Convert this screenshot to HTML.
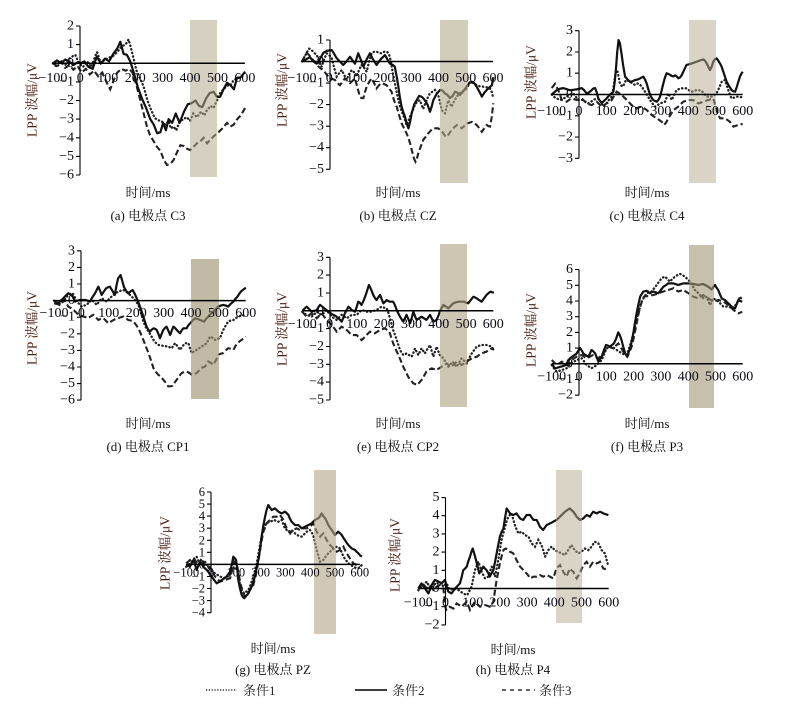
<!DOCTYPE html>
<html><head><meta charset="utf-8"><style>
html,body{margin:0;padding:0;background:#fff}
svg{display:block}
.s{fill:none;stroke:#111;stroke-width:2.2;stroke-linejoin:round;vector-effect:non-scaling-stroke}
.d{fill:none;stroke:#222;stroke-width:2.3;stroke-linecap:round;stroke-dasharray:0.4 3.3;vector-effect:non-scaling-stroke}
.k{fill:none;stroke:#222;stroke-width:2.1;stroke-dasharray:6 3;vector-effect:non-scaling-stroke}
.ax{stroke:#000;stroke-width:1.1;fill:none}
.zx{stroke:#000;stroke-width:1.5;fill:none}
.yt{font-size:14px;text-anchor:end;dominant-baseline:central;fill:#0a0a14}
.xt{font-size:14px;text-anchor:middle;fill:#0a0a14}
.sm{font-size:12.5px}
.yl{font-size:13.5px;fill:#4a1e10;text-anchor:middle;dominant-baseline:central}
.tt{font-size:13px;text-anchor:middle;fill:#111}
.lg{font-size:13px;fill:#222}
</style></head><body>
<svg width="811" height="707" viewBox="0 0 811 707" xmlns="http://www.w3.org/2000/svg" font-family="'Liberation Serif','Noto Serif CJK SC',serif">

<!-- (a) C3 -->
<g>
<g transform="translate(80.3,63.25) scale(0.2743,-18.625)">
<polyline class="d" points="-100,0 -85,-0.2 -70,0.1 -55,-0.1 -40,0.25 -25,0.4 -18,0.45 -5,0 10,-0.2 25,0.1 40,-0.2 55,0.4 61,0.6 75,0 90,0.2 105,0.3 120,0.4 135,0.6 150,0.9 165,1.0 176,1.28 185,0.8 195,0.2 205,-0.4 218,-0.8 231,-1.26 245,-2.0 258,-2.5 270,-2.9 280,-3.05 295,-3.1 310,-3.3 322,-3.1 330,-3.5 340,-3.4 350,-3.6 360,-3.2 375,-3.0 389,-2.9 400,-3.1 412,-2.7 425,-2.9 440,-2.6 452,-2.8 462,-2.5 475,-2.3 486,-2.4 498,-2.0 510,-1.6 522,-1.4 535,-1.2 547,-1.2 559,-0.9 575,-0.8 590,-0.7 601,-0.6"/>
<polyline class="k" points="-100,0 -85,-0.15 -70,0.1 -55,-0.25 -40,-0.1 -25,-0.35 -10,-0.15 5,-0.5 20,-0.3 35,-0.6 50,-0.4 65,-0.7 80,-0.5 95,-1.0 109,-1.4 122,-0.9 135,-0.5 150,-0.3 165,-0.4 178,-0.3 190,-0.5 205,-1.2 219,-2.0 231,-2.7 243,-3.4 255,-3.9 268,-4.2 280,-4.5 292,-4.7 305,-5.2 316,-5.46 328,-5.4 340,-5.2 352,-4.8 365,-4.4 378,-4.45 390,-4.6 401,-4.66 412,-4.5 425,-4.3 437,-4.2 450,-4.0 462,-4.3 474,-4.1 488,-3.9 504,-3.7 518,-3.5 535,-3.2 547,-3.4 559,-3.3 572,-3.0 585,-2.8 601,-2.4"/>
<polyline class="s" points="-100,0 -85,0.15 -70,0 -55,0.2 -40,0.1 -25,-0.1 -10,0.05 0,0 15,0.1 30,-0.2 45,-0.3 60,0.35 75,0 90,0.25 105,0.1 120,0.5 135,0.8 146,1.15 158,0.5 170,0.45 182,0.1 195,-0.5 210,-1.3 225,-1.9 240,-2.4 255,-3.0 268,-3.3 280,-3.76 292,-3.7 302,-3.2 312,-3.6 322,-3.0 335,-3.2 348,-2.7 362,-3.2 378,-2.6 392,-2.2 405,-2.15 420,-2.0 433,-2.3 445,-2.35 458,-1.9 472,-1.6 486,-1.53 498,-1.8 510,-1.8 522,-1.4 535,-1.05 547,-1.17 560,-1.4 571,-0.8 585,-0.75 601,-0.45"/>
</g>
<rect x="190" y="20" width="27" height="157" fill="rgb(180,170,140)" fill-opacity="0.55"/>
<path class="zx" d="M52.9 63.25H244.9"/>
<path class="ax" d="M80 26V175M76 26H80M76 44.6H80M76 63.3H80M76 81.9H80M76 100.5H80M76 119.1H80M76 137.8H80M76 156.4H80M76 175H80"/>
<text class="yt" x="74" y="26">2</text><text class="yt" x="74" y="44.6">1</text><text class="yt" x="74" y="63.3">0</text><text class="yt" x="74" y="81.9">−1</text><text class="yt" x="74" y="100.5">−2</text><text class="yt" x="74" y="119.1">−3</text><text class="yt" x="74" y="137.8">−4</text><text class="yt" x="74" y="156.4">−5</text><text class="yt" x="74" y="175">−6</text>
<text class="xt" x="52.9" y="82">−100</text><text class="xt" x="80.3" y="82">0</text><text class="xt" x="107.7" y="82">100</text><text class="xt" x="135.2" y="82">200</text><text class="xt" x="162.6" y="82">300</text><text class="xt" x="190" y="82">400</text><text class="xt" x="217.5" y="82">500</text><text class="xt" x="244.9" y="82">600</text>
<text class="yl" transform="translate(32,100) rotate(-90)">LPP 波幅/μV</text>
<text class="tt" x="148" y="197">时间/ms</text>
<text class="tt" x="148" y="220">(a) 电极点 C3</text>
</g>

<!-- (b) CZ -->
<g>
<g transform="translate(329.3,61.5) scale(0.2729,-21.55)">
<polyline class="d" points="-100,0 -83,0.4 -74,0.6 -65,0.53 -55,0.4 -46,0.3 -37,0 -28,-0.24 -19,0.1 -10,0.38 0,0.3 9,0.15 18,-0.3 27,-0.7 36,-0.55 45,-0.4 54,-0.6 63,-0.86 72,-0.6 82,-0.4 91,-0.5 100,-0.7 109,-0.4 118,-0.16 128,-0.3 137,-0.47 146,0 155,0.38 164,0.45 173,0.46 182,0.4 192,0.38 201,0.45 210,0.46 216,0.4 222,0.22 231,-0.4 240,-1.0 250,-1.6 259,-2.1 265,-2.3 271,-2.5 277,-2.7 283,-2.95 290,-2.75 296,-2.55 305,-2.3 314,-2.0 323,-1.85 332,-1.8 338,-2.0 344,-2.2 350,-2.0 357,-1.8 363,-1.6 369,-1.48 378,-1.4 387,-1.32 393,-1.4 399,-1.55 406,-1.9 412,-2.25 418,-2.35 424,-2.4 430,-2.1 436,-1.8 442,-1.95 448,-2.1 455,-1.9 467,-1.63 476,-1.5 485,-1.4 494,-1.35 503,-1.25 510,-1.1 516,-0.94 528,-1.0 540,-1.1 552,-1.15 565,-1.17 577,-1.2 589,-1.25 595,-1.4 601,-1.7"/>
<polyline class="k" points="-100,0 -92,0.2 -83,0.4 -74,0.3 -65,0.15 -55,0 -46,-0.16 -34,-0.3 -22,-0.4 -13,-0.55 -4,-0.7 9,-0.8 21,-0.86 30,-1.0 39,-1.1 48,-0.95 57,-0.78 67,-0.9 76,-1.0 85,-0.9 94,-0.78 103,-1.2 112,-1.63 118,-1.7 125,-1.7 131,-1.4 137,-1.17 146,-0.95 155,-0.78 164,-1.0 173,-1.25 182,-1.1 192,-1.0 201,-1.05 210,-1.1 219,-1.25 228,-1.4 237,-1.8 247,-2.1 256,-2.5 265,-2.87 274,-3.1 283,-3.33 290,-3.55 296,-3.8 302,-4.1 308,-4.4 312,-4.55 316,-4.65 321,-4.5 326,-4.26 335,-3.95 344,-3.64 353,-3.5 363,-3.33 372,-3.2 381,-3.1 390,-3.1 399,-3.1 409,-3.2 418,-3.33 424,-3.45 430,-3.5 439,-3.35 448,-3.18 458,-3.05 467,-2.95 476,-3.0 485,-3.1 494,-3.0 503,-2.87 512,-2.85 522,-2.8 531,-2.85 540,-2.95 550,-3.1 559,-3.26 568,-3.1 577,-2.95 583,-3.0 589,-3.02 595,-2.6 601,-1.94"/>
<polyline class="s" points="-100,0 -85,0.1 -71,0.2 -58,0 -46,-0.1 -35,0.1 -22,0.4 -8,0.5 9,0.53 18,0.35 27,0.15 39,0 51,-0.16 63,0 76,0.22 85,0.05 94,-0.1 106,0.38 115,0.1 125,-0.24 137,0.1 149,0.38 160,0.1 173,-0.16 188,0.1 204,0.3 213,0.1 222,-0.1 232,-0.15 240,-0.24 247,-0.7 253,-1.17 259,-1.7 265,-2.1 271,-2.35 277,-2.55 284,-2.9 290,-3.1 296,-2.8 302,-2.4 311,-2.0 320,-1.8 329,-1.6 338,-1.63 344,-1.7 350,-1.8 360,-2.0 369,-2.33 375,-2.1 381,-1.8 393,-1.5 406,-1.32 415,-1.35 424,-1.48 433,-1.55 442,-1.7 452,-1.6 461,-1.4 470,-1.45 479,-1.55 490,-1.4 503,-1.17 513,-1.0 522,-0.94 531,-1.0 540,-1.17 550,-1.4 559,-1.63 568,-1.45 577,-1.32 587,-1.2 596,-1.1 601,-0.73"/>
</g>
<rect x="440" y="20" width="28" height="163" fill="rgb(180,170,140)" fill-opacity="0.6"/>
<path class="zx" d="M302 61.5H493"/>
<path class="ax" d="M330 40V169.3M326 40H330M326 61.5H330M326 83.1H330M326 104.6H330M326 126.2H330M326 147.7H330M326 169.3H330"/>
<text class="yt" x="324" y="40">1</text><text class="yt" x="324" y="61.5">0</text><text class="yt" x="324" y="83.1">−1</text><text class="yt" x="324" y="104.6">−2</text><text class="yt" x="324" y="126.2">−3</text><text class="yt" x="324" y="147.7">−4</text><text class="yt" x="324" y="169.3">−5</text>
<text class="xt" x="302" y="82">−100</text><text class="xt" x="329.3" y="82">0</text><text class="xt" x="356.6" y="82">100</text><text class="xt" x="383.9" y="82">200</text><text class="xt" x="411.2" y="82">300</text><text class="xt" x="438.5" y="82">400</text><text class="xt" x="465.8" y="82">500</text><text class="xt" x="493" y="82">600</text>
<text class="yl" transform="translate(282,90) rotate(-90)">LPP 波幅/μV</text>
<text class="tt" x="398" y="197">时间/ms</text>
<text class="tt" x="398" y="220">(b) 电极点 CZ</text>
</g>

<!-- (c) C4 -->
<g>
<g transform="translate(579,94.5) scale(0.2729,-21.27)">
<polyline class="d" points="-100,0 -88,-0.15 -79,-0.2 -70,-0.26 -57,-0.2 -45,-0.1 -33,0 -21,0.05 -12,-0.1 -2,-0.26 7,-0.25 16,-0.26 25,-0.35 34,-0.42 43,-0.35 53,-0.26 62,-0.2 71,-0.18 80,-0.35 89,-0.57 95,-0.5 101,-0.42 110,-0.25 120,-0.1 126,0.3 132,0.84 136,1.0 140,1.15 145,0.85 150,0.52 155,0.42 160,0.37 166,0.5 172,0.68 180,0.65 187,0.6 196,0.52 205,0.45 211,0.5 217,0.52 224,0.45 230,0.37 236,0.25 242,0.13 251,-0.05 260,-0.26 269,-0.42 278,-0.57 288,-0.5 297,-0.42 306,-0.38 315,-0.34 321,-0.15 327,0.05 334,-0.1 340,-0.26 349,0 358,0.21 367,0.26 376,0.29 385,0.29 394,0.29 403,0.2 413,0.13 422,0.17 431,0.21 440,0.2 449,0.18 458,0.05 468,-0.1 477,-0.1 486,-0.1 495,-0.03 504,0.05 513,0.3 523,0.6 529,0.65 535,0.68 541,0.45 547,0.21 553,0 559,-0.18 568,-0.15 578,-0.1 589,-0.12 600,-0.13"/>
<polyline class="k" points="-100,0.3 -94,0.4 -88,0.5 -82,0.35 -76,0.21 -70,0 -63,-0.26 -54,-0.3 -45,-0.34 -36,-0.25 -27,-0.18 -18,-0.22 -9,-0.26 0,-0.22 10,-0.18 19,-0.3 28,-0.42 37,-0.46 46,-0.5 56,-0.42 65,-0.34 74,-0.45 83,-0.57 92,-0.5 101,-0.42 110,-0.35 120,-0.26 129,-0.05 138,0.13 147,0.06 156,0 165,-0.13 175,-0.26 184,-0.38 193,-0.5 202,-0.58 211,-0.65 220,-0.6 230,-0.57 239,-0.65 248,-0.73 257,-0.85 266,-0.96 276,-1.05 285,-1.12 294,-1.2 303,-1.28 312,-1.43 320,-1.3 327,-1.12 337,-0.92 346,-0.73 355,-0.65 364,-0.57 373,-0.45 382,-0.34 391,-0.3 401,-0.26 410,-0.26 419,-0.26 428,-0.34 437,-0.42 446,-0.38 455,-0.34 464,-0.3 474,-0.26 483,-0.22 492,-0.18 498,-0.45 504,-0.73 510,-0.95 517,-1.12 526,-1.12 535,-1.12 544,-1.2 553,-1.28 560,-1.4 566,-1.51 575,-1.47 584,-1.43 592,-1.4 600,-1.39"/>
<polyline class="s" points="-100,0 -91,0.1 -82,0.2 -70,0.27 -57,0.3 -45,0.25 -33,0.2 -21,0.22 -9,0.24 0,0.27 10,0.3 19,0.2 28,0.05 37,0.1 46,0.2 52,0.28 59,0.3 65,0.1 71,-0.2 77,-0.3 83,-0.4 92,-0.3 101,-0.18 108,-0.08 114,0 120,0.06 126,0.13 131,0.6 136,1.3 140,2.0 145,2.56 150,2.4 156,1.9 162,1.35 169,0.84 178,0.7 187,0.6 196,0.62 205,0.68 214,0.7 224,0.76 230,0.8 236,0.84 242,0.7 248,0.52 254,0.25 260,0 266,-0.15 272,-0.26 278,-0.3 285,-0.34 291,-0.25 297,-0.1 303,0.2 309,0.52 315,0.8 321,1.0 330,0.95 340,0.87 346,0.85 352,0.9 358,0.85 364,0.76 370,0.8 376,0.9 385,1.15 394,1.39 403,1.42 413,1.46 422,1.5 431,1.54 443,1.6 455,1.65 461,1.6 468,1.46 474,1.3 480,1.15 486,1.3 492,1.54 498,1.65 504,1.7 510,1.6 517,1.45 523,1.3 532,0.95 541,0.6 550,0.4 559,0.21 566,0.15 572,0.13 578,0.35 584,0.6 590,0.85 596,1.0 600,1.07"/>
</g>
<rect x="689" y="20" width="27" height="163" fill="rgb(180,170,140)" fill-opacity="0.5"/>
<path class="zx" d="M551.7 94.5H742.7"/>
<path class="ax" d="M579 30.7V158.3M575 30.7H579M575 52H579M575 73.2H579M575 94.5H579M575 115.8H579M575 137H579M575 158.3H579"/>
<text class="yt" x="573" y="30.7">3</text><text class="yt" x="573" y="52">2</text><text class="yt" x="573" y="73.2">1</text><text class="yt" x="573" y="94.5">0</text><text class="yt" x="573" y="115.8">−1</text><text class="yt" x="573" y="137">−2</text><text class="yt" x="573" y="158.3">−3</text>
<text class="xt" x="551.7" y="115">−100</text><text class="xt" x="579" y="115">0</text><text class="xt" x="606.3" y="115">100</text><text class="xt" x="633.6" y="115">200</text><text class="xt" x="660.9" y="115">300</text><text class="xt" x="688.2" y="115">400</text><text class="xt" x="715.5" y="115">500</text><text class="xt" x="742.7" y="115">600</text>
<text class="yl" transform="translate(531,82) rotate(-90)">LPP 波幅/μV</text>
<text class="tt" x="647" y="197">时间/ms</text>
<text class="tt" x="647" y="220">(c) 电极点 C4</text>
</g>

<!-- (d) CP1 -->
<g>
<g transform="translate(81.4,300.6) scale(0.2739,-16.59)">
<polyline class="d" points="-100,0 -92,-0.15 -84,-0.26 -75,-0.15 -66,-0.06 -57,0.15 -48,0.34 -40,0.4 -32,0.44 -24,0.2 -17,-0.06 -8,-0.2 1,-0.36 10,-0.3 19,-0.26 28,-0.1 38,0.04 47,-0.1 56,-0.26 65,-0.05 74,0.14 83,0.05 92,-0.06 104,0.15 117,0.34 126,0.45 135,0.54 144,0.6 153,0.64 162,0.55 171,0.44 180,0.3 190,0.14 199,-0.05 208,-0.26 217,-0.7 226,-1.26 235,-1.6 245,-1.87 254,-2.1 263,-2.37 272,-2.55 281,-2.67 290,-2.7 299,-2.73 308,-2.75 317,-2.77 323,-2.82 330,-2.87 336,-2.7 342,-2.57 351,-2.75 360,-2.97 369,-2.75 379,-2.57 385,-2.57 391,-2.57 397,-2.9 403,-3.17 412,-3.05 421,-2.97 430,-2.87 439,-2.77 449,-2.65 458,-2.57 464,-2.35 470,-2.17 479,-2.25 488,-2.37 497,-2.3 506,-2.27 512,-2.0 518,-1.77 527,-1.5 536,-1.26 545,-1.2 555,-1.17 564,-1.05 573,-0.97 581,-0.92 589,-0.87 600,-0.97"/>
<polyline class="k" points="-100,-0.16 -90,-0.2 -80,-0.26 -72,-0.1 -63,0.04 -55,-0.15 -48,-0.36 -38,-0.45 -29,-0.56 -20,-0.7 -11,-0.86 -2,-0.9 7,-0.96 16,-1.0 25,-1.06 34,-0.95 43,-0.86 52,-1.0 62,-1.17 71,-1.1 80,-1.06 89,-1.2 98,-1.37 107,-1.27 117,-1.17 126,-1.1 135,-1.06 144,-1.0 153,-0.96 162,-1.05 171,-1.17 180,-1.2 190,-1.26 199,-1.45 208,-1.67 217,-2.0 226,-2.37 235,-2.75 245,-3.17 254,-3.6 263,-4.07 272,-4.3 281,-4.47 290,-4.6 299,-4.77 308,-4.95 317,-5.17 325,-5.17 333,-5.13 340,-4.95 348,-4.77 357,-4.55 366,-4.37 375,-4.3 384,-4.27 393,-4.35 403,-4.47 412,-4.42 421,-4.37 430,-4.2 439,-4.07 445,-4.0 452,-3.97 458,-3.8 463,-3.67 472,-3.75 482,-3.87 491,-3.6 500,-3.27 509,-3.2 518,-3.17 527,-3.0 536,-2.87 545,-2.9 555,-2.97 562,-2.75 570,-2.57 578,-2.45 585,-2.37 592,-2.27 600,-2.17"/>
<polyline class="s" points="-100,0 -92,-0.1 -84,-0.16 -75,0 -66,0.14 -57,0.3 -48,0.44 -42,0.4 -36,0.34 -29,0.15 -23,-0.06 -14,0 -5,0.04 4,0.04 13,0.04 22,0 31,-0.06 40,0.2 50,0.44 56,0.65 62,0.84 68,0.6 74,0.34 82,0.55 90,0.74 97,0.8 104,0.84 113,0.6 122,0.34 128,0.9 134,1.34 139,1.45 143,1.54 149,1.2 155,0.84 163,0.6 171,0.44 179,0.55 187,0.64 195,0.4 202,0.14 208,-0.1 214,-0.36 220,-0.65 226,-0.96 232,-1.27 238,-1.57 244,-1.75 250,-1.87 257,-1.75 263,-1.67 269,-1.7 275,-1.77 281,-2.0 287,-2.27 293,-2.0 299,-1.77 305,-1.65 311,-1.57 317,-1.8 324,-2.07 330,-1.8 336,-1.57 342,-1.65 348,-1.77 354,-1.87 360,-1.97 366,-1.8 372,-1.67 378,-1.67 384,-1.67 390,-1.5 397,-1.37 406,-1.2 415,-1.07 424,-1.1 433,-1.17 441,-1.22 448,-1.27 455,-1.1 463,-0.97 472,-0.8 482,-0.67 491,-0.5 500,-0.36 509,-0.3 518,-0.26 527,-0.3 536,-0.36 545,-0.2 555,-0.06 562,0.1 570,0.24 576,0.4 582,0.54 590,0.65 597,0.74 600,0.78"/>
</g>
<rect x="191" y="259" width="28" height="140" fill="rgb(160,150,118)" fill-opacity="0.65"/>
<path class="zx" d="M54 300.6H245.7"/>
<path class="ax" d="M81 250.8V400.1M77 250.8H81M77 267.4H81M77 284H81M77 300.6H81M77 317.2H81M77 333.8H81M77 350.4H81M77 367H81M77 383.6H81M77 400.1H81"/>
<text class="yt" x="75" y="250.8">3</text><text class="yt" x="75" y="267.4">2</text><text class="yt" x="75" y="284">1</text><text class="yt" x="75" y="300.6">0</text><text class="yt" x="75" y="317.2">−1</text><text class="yt" x="75" y="333.8">−2</text><text class="yt" x="75" y="350.4">−3</text><text class="yt" x="75" y="367">−4</text><text class="yt" x="75" y="383.6">−5</text><text class="yt" x="75" y="400.1">−6</text>
<text class="xt" x="54" y="317">−100</text><text class="xt" x="81.4" y="317">0</text><text class="xt" x="108.8" y="317">100</text><text class="xt" x="136.2" y="317">200</text><text class="xt" x="163.6" y="317">300</text><text class="xt" x="191" y="317">400</text><text class="xt" x="218.4" y="317">500</text><text class="xt" x="245.7" y="317">600</text>
<text class="yl" transform="translate(32,328) rotate(-90)">LPP 波幅/μV</text>
<text class="tt" x="148" y="428">时间/ms</text>
<text class="tt" x="148" y="451">(d) 电极点 CP1</text>
</g>

<!-- (e) CP2 -->
<g>
<g transform="translate(329.6,310.8) scale(0.2729,-17.83)">
<polyline class="d" points="-100,-0.05 -92,-0.15 -84,-0.23 -75,-0.28 -66,-0.33 -56,-0.2 -47,-0.05 -38,-0.14 -29,-0.23 -20,-0.1 -11,0.04 -2,-0.15 8,-0.33 17,-0.42 26,-0.51 35,-0.37 44,-0.23 54,-0.32 63,-0.42 72,-0.32 81,-0.23 90,-0.23 99,-0.23 108,-0.1 117,0.04 127,0 136,-0.05 145,-0.05 154,-0.05 163,0 172,0.04 181,0.14 190,0.23 199,0.18 209,0.14 215,-0.1 221,-0.42 227,-0.75 233,-1.09 240,-1.36 246,-1.64 252,-1.92 258,-2.2 264,-2.35 270,-2.48 276,-2.44 282,-2.39 291,-2.48 301,-2.57 307,-2.35 313,-2.11 319,-2.3 325,-2.48 331,-2.3 337,-2.11 343,-2.25 349,-2.39 358,-2.15 368,-1.92 374,-2.25 380,-2.57 386,-2.3 392,-2.01 398,-2.25 404,-2.48 410,-2.57 417,-2.67 426,-2.9 435,-3.14 443,-3.0 451,-2.86 458,-3.0 466,-3.14 475,-2.9 484,-2.67 493,-2.8 502,-2.95 511,-2.67 521,-2.39 530,-2.2 539,-2.01 548,-1.96 557,-1.92 566,-1.92 575,-1.92 584,-1.96 594,-2.01 602,-2.2"/>
<polyline class="k" points="-100,-0.05 -92,-0.2 -84,-0.33 -75,-0.24 -66,-0.14 -56,-0.28 -47,-0.42 -38,-0.28 -29,-0.14 -20,-0.33 -11,-0.51 -2,-0.65 8,-0.79 17,-0.98 26,-1.17 35,-1.03 44,-0.89 54,-0.98 63,-1.08 72,-1.22 81,-1.36 90,-1.36 99,-1.36 108,-1.5 117,-1.64 124,-1.55 130,-1.45 139,-1.3 148,-1.17 157,-1.2 166,-1.26 175,-1.17 185,-1.08 194,-1.03 203,-0.98 211,-1.08 219,-1.17 226,-1.5 233,-1.83 242,-2.15 252,-2.48 261,-2.8 270,-3.14 279,-3.42 288,-3.7 297,-3.9 307,-4.07 315,-4.12 322,-4.16 330,-4.0 337,-3.88 346,-3.65 355,-3.41 364,-3.3 374,-3.23 383,-3.27 392,-3.32 401,-3.23 410,-3.14 420,-3.05 429,-2.95 438,-3.05 447,-3.14 456,-3.0 466,-2.86 475,-2.95 484,-3.04 493,-2.95 502,-2.86 511,-2.76 521,-2.67 530,-2.62 539,-2.58 548,-2.48 557,-2.39 566,-2.34 575,-2.29 584,-2.2 594,-2.11 602,-2.2"/>
<polyline class="s" points="-100,0 -92,0.12 -84,0.23 -75,0.1 -66,-0.05 -56,0 -47,0.04 -41,0.2 -35,0.33 -28,0.25 -20,0.14 -12,0.05 -5,-0.05 5,-0.15 14,-0.23 23,-0.3 32,-0.42 38,-0.5 44,-0.61 50,-0.4 56,-0.14 63,0.05 69,0.23 75,0.15 81,0.04 87,0 93,-0.05 99,0.2 105,0.51 111,0.45 117,0.33 124,0.55 130,0.79 137,1.1 144,1.45 152,1.2 160,0.89 166,0.72 172,0.6 178,0.75 185,0.89 191,0.65 197,0.42 203,0.5 209,0.6 215,0.55 221,0.51 227,0.51 233,0.51 240,0.3 246,0.04 252,-0.15 258,-0.33 264,-0.48 270,-0.61 276,-0.42 282,-0.23 288,-0.45 295,-0.7 301,-0.4 307,-0.05 313,-0.3 319,-0.51 328,-0.42 337,-0.33 346,-0.42 355,-0.51 361,-0.38 368,-0.23 374,-0.42 380,-0.61 386,-0.56 392,-0.51 398,-0.3 404,-0.05 410,0.15 417,0.33 426,0.24 435,0.14 444,0.28 453,0.42 462,0.47 472,0.51 481,0.51 490,0.51 499,0.47 508,0.42 517,0.6 527,0.79 533,0.75 539,0.7 548,0.6 557,0.51 566,0.7 575,0.89 583,1.0 590,1.07 596,1.04 602,1.01"/>
</g>
<rect x="440" y="244" width="27" height="163" fill="rgb(170,160,128)" fill-opacity="0.6"/>
<path class="zx" d="M302.3 310.8H493.3"/>
<path class="ax" d="M330 257.3V400M326 257.3H330M326 275.1H330M326 293H330M326 310.8H330M326 328.6H330M326 346.5H330M326 364.3H330M326 382.1H330M326 400H330"/>
<text class="yt" x="324" y="257.3">3</text><text class="yt" x="324" y="275.1">2</text><text class="yt" x="324" y="293">1</text><text class="yt" x="324" y="310.8">0</text><text class="yt" x="324" y="328.6">−1</text><text class="yt" x="324" y="346.5">−2</text><text class="yt" x="324" y="364.3">−3</text><text class="yt" x="324" y="382.1">−4</text><text class="yt" x="324" y="400">−5</text>
<text class="xt" x="302.3" y="328">−100</text><text class="xt" x="329.6" y="328">0</text><text class="xt" x="356.9" y="328">100</text><text class="xt" x="384.2" y="328">200</text><text class="xt" x="411.5" y="328">300</text><text class="xt" x="438.8" y="328">400</text><text class="xt" x="466.1" y="328">500</text><text class="xt" x="493.3" y="328">600</text>
<text class="yl" transform="translate(282,329) rotate(-90)">LPP 波幅/μV</text>
<text class="tt" x="398" y="428">时间/ms</text>
<text class="tt" x="398" y="451">(e) 电极点 CP2</text>
</g>

<!-- (f) P3 -->
<g>
<g transform="translate(579,363.8) scale(0.2729,-15.71)">
<polyline class="d" points="-100,-0.08 -91,-0.3 -82,-0.5 -72,-0.45 -63,-0.4 -54,-0.34 -45,-0.28 -36,-0.12 -27,0.03 -18,0.14 -9,0.24 1,0.3 10,0.35 19,0.15 28,-0.08 37,-0.18 46,-0.28 56,-0.18 65,-0.08 74,0.08 83,0.24 92,0.6 101,0.98 110,1.04 120,1.1 129,1.0 138,0.88 147,0.78 156,0.67 166,0.6 175,0.56 184,1.0 193,1.52 202,2.15 211,2.8 220,3.4 230,3.96 239,4.25 248,4.49 257,4.55 266,4.6 275,4.8 285,5.02 294,5.25 303,5.44 309,5.5 315,5.55 324,5.4 333,5.23 342,5.4 352,5.55 361,5.65 370,5.72 379,5.65 388,5.55 397,5.4 407,5.23 416,4.95 425,4.7 434,4.55 443,4.38 450,4.27 456,4.17 462,4.2 468,4.27 474,4.0 480,3.74 486,3.95 492,4.17 502,4.06 511,3.96 520,3.8 529,3.64 538,3.64 547,3.64 557,3.58 566,3.53 572,3.7 578,3.85 584,4.05 590,4.27 598,4.06"/>
<polyline class="k" points="-100,0.24 -91,0.08 -82,-0.08 -72,0.03 -63,0.14 -54,0.03 -45,-0.08 -36,0.08 -27,0.24 -18,0.35 -9,0.45 1,0.5 10,0.56 19,0.45 28,0.35 40,0.45 52,0.56 62,0.45 71,0.35 80,0.5 89,0.67 98,0.9 107,1.1 117,1.04 126,0.98 135,1.15 144,1.3 153,1.05 162,0.77 170,0.6 177,0.45 185,0.75 193,1.1 201,1.7 209,2.36 216,3.0 224,3.64 231,4.0 238,4.27 246,4.3 254,4.31 263,4.35 272,4.38 282,4.43 291,4.49 300,4.55 309,4.6 318,4.65 327,4.7 337,4.75 346,4.81 355,4.7 364,4.6 373,4.65 382,4.7 391,4.6 401,4.49 410,4.38 419,4.27 428,4.22 437,4.17 446,4.27 455,4.38 464,4.27 474,4.17 483,4.06 492,3.96 502,4.01 511,4.06 520,4.01 529,3.96 538,3.85 547,3.74 557,3.58 566,3.42 575,3.32 584,3.21 591,3.26 598,3.32"/>
<polyline class="s" points="-100,0 -94,-0.15 -88,-0.3 -79,-0.25 -70,-0.2 -60,-0.15 -51,-0.1 -42,0.1 -33,0.35 -21,0.5 -9,0.65 -2,0.85 4,1.0 10,0.85 16,0.65 25,0.55 34,0.45 40,0.65 46,0.88 52,0.8 59,0.67 65,0.4 71,0.14 77,0.3 83,0.45 91,0.85 99,1.2 107,1.15 114,1.1 121,1.2 128,1.3 136,1.6 144,2.0 150,1.8 156,1.5 162,1.1 169,0.67 173,0.58 177,0.5 183,0.8 189,1.1 194,1.5 199,1.94 205,2.6 211,3.2 218,3.8 224,4.27 230,4.45 236,4.6 242,4.62 248,4.65 254,4.58 260,4.49 266,4.55 272,4.6 281,4.55 291,4.49 300,4.7 309,4.9 318,5.0 327,5.12 337,5.12 346,5.12 355,5.07 364,5.02 373,5.07 382,5.12 391,5.12 401,5.12 410,5.1 419,5.08 428,5.05 437,5.02 446,5.05 455,5.08 464,5.0 474,4.9 480,4.82 486,4.74 492,4.88 498,5.02 504,4.85 510,4.7 517,4.4 523,4.17 529,4.1 535,4.06 541,3.95 547,3.85 553,3.75 559,3.64 566,3.58 572,3.53 578,3.8 584,4.06 591,4.0 598,3.95"/>
</g>
<rect x="689" y="245" width="25" height="163" fill="rgb(160,150,118)" fill-opacity="0.6"/>
<path class="zx" d="M551.7 363.8H742.7"/>
<path class="ax" d="M579 269.5V395.2M575 269.5H579M575 285.3H579M575 301H579M575 316.7H579M575 332.4H579M575 348.1H579M575 363.8H579M575 379.5H579M575 395.2H579"/>
<text class="yt" x="573" y="269.5">6</text><text class="yt" x="573" y="285.3">5</text><text class="yt" x="573" y="301">4</text><text class="yt" x="573" y="316.7">3</text><text class="yt" x="573" y="332.4">2</text><text class="yt" x="573" y="348.1">1</text><text class="yt" x="573" y="363.8">0</text><text class="yt" x="573" y="379.5">−1</text><text class="yt" x="573" y="395.2">−2</text>
<text class="xt" x="551.7" y="380.5">−100</text><text class="xt" x="579" y="380.5">0</text><text class="xt" x="606.3" y="380.5">100</text><text class="xt" x="633.6" y="380.5">200</text><text class="xt" x="660.9" y="380.5">300</text><text class="xt" x="688.2" y="380.5">400</text><text class="xt" x="715.5" y="380.5">500</text><text class="xt" x="742.7" y="380.5">600</text>
<text class="yl" transform="translate(531,330) rotate(-90)">LPP 波幅/μV</text>
<text class="tt" x="647" y="428">时间/ms</text>
<text class="tt" x="647" y="451">(f) 电极点 P3</text>
</g>

<!-- (g) PZ -->
<g>
<g transform="translate(211,564.4) scale(0.248,-12.07)">
<polyline class="d" points="-100,-0.2 -89,0 -78,0.23 -68,0.45 -58,0.64 -51,0.3 -44,-0.05 -34,0.1 -24,0.22 -14,-0.1 -4,-0.46 6,-0.6 16,-0.74 26,-0.87 36,-1.0 46,-1.08 56,-1.15 66,-1.0 77,-0.88 85,-0.5 93,-0.2 100,-0.33 106,-0.46 113,-1.2 120,-2.0 127,-2.2 133,-2.4 142,-2.26 151,-2.12 161,-1.6 171,-1.0 179,-0.3 187,0.37 195,1.3 204,2.3 213,2.9 222,3.4 230,3.47 238,3.54 246,3.6 254,3.68 263,3.6 272,3.54 279,3.6 285,3.68 292,3.3 298,2.99 305,2.85 312,2.71 319,2.78 325,2.85 335,2.65 345,2.44 356,2.37 366,2.3 376,2.5 386,2.71 393,2.78 399,2.85 406,2.65 412,2.44 419,1.8 426,1.19 433,0.7 440,0.23 446,0.3 453,0.37 460,0.57 466,0.78 476,0.98 487,1.19 497,1.33 507,1.47 513,1.4 520,1.33 527,1.0 534,0.64 544,0.36 554,0.09 564,-0.05 574,-0.2 584,-0.27 594,-0.33 601,-0.2 608,-0.05"/>
<polyline class="k" points="-100,0.09 -92,0.22 -85,0.36 -77,0.43 -69,0.5 -60,0.23 -51,-0.05 -44,0.22 -38,0.5 -31,0.15 -24,-0.2 -14,-0.2 -4,-0.2 6,-0.6 16,-1.0 26,-1.2 36,-1.43 46,-1.37 56,-1.3 66,-1.22 77,-1.15 85,-0.5 93,0.23 100,0 106,-0.2 113,-0.95 120,-1.7 128,-2.2 137,-2.67 145,-2.46 153,-2.26 162,-1.98 171,-1.7 177,-1.15 184,-0.6 191,0.3 198,1.19 204,1.95 211,2.71 218,3.05 224,3.4 231,3.54 238,3.68 244,3.8 251,3.95 258,3.95 265,3.95 271,4.0 278,4.1 285,3.9 292,3.68 298,3.35 305,2.99 312,2.78 319,2.57 325,2.71 332,2.85 339,2.92 345,2.99 352,2.92 359,2.85 366,2.92 372,2.99 379,2.99 386,2.99 393,3.05 399,3.12 406,3.26 413,3.4 419,3.05 426,2.71 433,2.5 440,2.3 446,2.44 453,2.57 460,2.3 466,2.02 473,1.8 480,1.6 487,1.47 493,1.33 500,1.19 507,1.05 513,1.12 520,1.19 527,1.33 534,1.47 540,1.2 547,0.92 554,0.7 560,0.5 567,0.3 574,0.09 581,0.02 587,-0.05 594,-0.12 601,-0.2"/>
<polyline class="s" points="-100,0 -92,-0.1 -85,-0.2 -78,0.1 -71,0.36 -64,-0.05 -58,-0.46 -51,-0.1 -44,0.22 -37,0 -31,-0.2 -24,-0.33 -17,-0.46 -7,-0.73 3,-1.0 13,-1.3 23,-1.57 33,-1.45 43,-1.3 53,-1.15 63,-1.0 70,-0.8 77,-0.6 84,0 90,0.64 96,0.5 101,0.37 106,-0.4 110,-1.3 117,-2.0 124,-2.55 129,-2.7 134,-2.8 142,-2.6 151,-2.4 157,-2.1 164,-1.84 171,-1.4 177,-1.0 184,-0.3 191,0.37 198,1.3 204,2.3 211,3.2 218,3.95 224,4.5 231,4.92 238,4.7 245,4.5 251,4.57 258,4.64 265,4.5 272,4.37 278,4.3 285,4.23 292,4.3 298,4.37 305,4.25 312,4.1 318,3.8 325,3.54 332,3.4 339,3.26 345,3.26 352,3.26 359,3.12 366,2.99 372,3.05 379,3.12 386,3.2 393,3.26 399,3.33 406,3.4 413,3.55 419,3.68 426,3.75 433,3.82 440,4.0 446,4.23 453,4.0 460,3.82 467,3.55 473,3.26 480,3.05 487,2.85 493,2.65 500,2.44 507,2.6 513,2.71 520,2.58 527,2.44 534,2.2 540,2.02 547,1.8 554,1.6 561,1.45 567,1.33 574,1.26 581,1.19 587,1.05 594,0.92 601,0.75 608,0.64"/>
</g>
<rect x="314" y="470" width="22" height="164" fill="rgb(175,165,133)" fill-opacity="0.6"/>
<path class="zx" d="M186.2 564.4H359.8"/>
<path class="ax" d="M211 492V612.7M207 492H211M207 504.1H211M207 516.1H211M207 528.2H211M207 540.3H211M207 552.3H211M207 564.4H211M207 576.5H211M207 588.5H211M207 600.6H211M207 612.7H211"/>
<text class="yt sm" x="205" y="492">6</text><text class="yt sm" x="205" y="504.1">5</text><text class="yt sm" x="205" y="516.1">4</text><text class="yt sm" x="205" y="528.2">3</text><text class="yt sm" x="205" y="540.3">2</text><text class="yt sm" x="205" y="552.3">1</text><text class="yt sm" x="205" y="564.4">0</text><text class="yt sm" x="205" y="576.5">−1</text><text class="yt sm" x="205" y="588.5">−2</text><text class="yt sm" x="205" y="600.6">−3</text><text class="yt sm" x="205" y="612.7">−4</text>
<text class="xt sm" x="186.2" y="576.5">−100</text><text class="xt sm" x="211" y="576.5">0</text><text class="xt sm" x="235.8" y="576.5">100</text><text class="xt sm" x="260.6" y="576.5">200</text><text class="xt sm" x="285.4" y="576.5">300</text><text class="xt sm" x="310.2" y="576.5">400</text><text class="xt sm" x="335" y="576.5">500</text><text class="xt sm" x="359.8" y="576.5">600</text>
<text class="yl" transform="translate(165,553) rotate(-90)">LPP 波幅/μV</text>
<text class="tt" x="273" y="653">时间/ms</text>
<text class="tt" x="273" y="674">(g) 电极点 PZ</text>
</g>

<!-- (h) P4 -->
<g>
<g transform="translate(445.5,588.5) scale(0.272,-18.19)">
<polyline class="d" points="-100,-0.1 -91,0.05 -82,0.19 -75,0.28 -69,0.38 -63,0.2 -57,0 -51,0.1 -45,0.19 -39,0.24 -33,0.28 -26,0.33 -20,0.38 -14,0.24 -8,0.1 -2,0.2 4,0.28 10,0.1 17,-0.08 23,-0.04 29,0 38,-0.04 47,-0.08 56,-0.17 65,-0.27 72,-0.32 80,-0.36 88,-0.13 96,0.1 102,0.55 108,1.0 115,1.25 121,1.47 127,1.2 133,0.92 139,0.74 145,0.56 151,0.6 157,0.65 163,0.92 170,1.2 176,0.92 182,0.65 188,1.1 194,1.57 200,2.12 206,2.67 213,3.05 219,3.4 225,3.7 231,3.95 237,4.05 243,4.13 249,3.8 255,3.49 261,3.26 268,3.03 274,3.08 280,3.12 286,3.03 292,2.94 298,2.9 305,2.85 311,2.66 317,2.48 323,2.39 329,2.3 335,2.48 341,2.67 347,2.53 353,2.39 360,2.07 366,1.75 372,1.93 378,2.11 384,2.2 390,2.3 396,2.2 402,2.11 408,2.06 415,2.02 421,1.97 427,1.93 433,1.88 439,1.84 445,1.97 451,2.11 457,2.25 463,2.39 469,2.25 475,2.11 482,2.02 488,1.93 494,1.97 500,2.02 506,2.11 512,2.2 518,2.15 525,2.11 531,2.2 537,2.3 543,2.44 549,2.57 556,2.52 562,2.48 568,2.3 574,2.11 580,2.02 586,1.93 592,1.6 599,1.2"/>
<polyline class="k" points="-100,0 -92,0.14 -84,0.28 -76,0.14 -69,0 -63,0.1 -57,0.19 -51,0.05 -45,-0.08 -39,0 -33,0.1 -26,0.15 -20,0.19 -14,0.1 -8,0 -3,-0.6 2,-1.18 8,-1.09 14,-1.0 22,-1.05 29,-1.1 35,-0.96 41,-0.82 50,-0.91 59,-1.0 68,-0.87 78,-0.73 84,-0.95 90,-1.18 99,-0.95 108,-0.73 117,-0.87 127,-1.0 136,-0.95 145,-0.91 154,-0.95 163,-1.0 170,-0.87 176,-0.73 182,-0.1 188,0.47 194,0.92 200,1.38 206,1.75 213,2.11 218,2.17 222,2.2 229,2.1 237,2.02 243,1.98 249,1.93 255,1.75 261,1.57 268,1.38 274,1.2 280,1.11 286,1.02 292,0.92 298,0.83 305,0.7 311,0.56 317,0.6 323,0.65 329,0.65 335,0.65 341,0.7 347,0.74 353,0.7 359,0.65 366,0.7 372,0.74 378,0.7 384,0.65 390,0.6 396,0.56 402,0.83 408,1.1 415,1.2 421,1.29 427,1.1 433,0.92 439,0.78 445,0.65 451,0.88 457,1.1 463,1.0 470,0.92 476,0.74 482,0.56 488,0.7 494,0.83 500,1.06 507,1.29 513,1.38 519,1.47 525,1.33 531,1.2 537,1.33 543,1.47 549,1.42 556,1.38 562,1.42 568,1.47 574,1.29 580,1.1 590,1.06 599,1.02"/>
<polyline class="s" points="-100,0 -94,0.15 -88,0.28 -82,0.14 -75,0 -69,-0.14 -63,-0.27 -57,-0.05 -51,0.19 -45,0.33 -39,0.47 -33,0.43 -26,0.38 -20,0.33 -14,0.28 -8,0.38 -2,0.47 4,0.15 10,-0.17 16,-0.22 22,-0.27 29,-0.13 35,0 44,0.14 53,0.28 59,0.6 65,1.0 72,1.1 78,1.2 84,1.5 90,1.75 95,2.0 100,2.2 106,1.9 112,1.57 118,1.2 124,0.83 131,1.0 139,1.2 145,1.1 151,1.01 157,0.85 163,0.65 169,0.83 176,1.01 182,1.45 188,1.93 194,2.4 200,2.85 206,3.1 213,3.3 219,3.9 225,4.4 231,4.27 237,4.13 243,4.08 249,4.04 255,4.08 261,4.13 267,4.0 274,3.86 280,3.8 286,3.77 292,3.9 298,4.04 305,4.04 311,4.04 317,3.9 323,3.77 329,3.77 335,3.77 341,3.6 347,3.4 353,3.3 359,3.22 365,3.35 372,3.49 378,3.53 384,3.58 390,3.62 396,3.67 402,3.72 408,3.77 415,3.86 421,3.95 430,4.08 439,4.22 448,4.31 457,4.4 463,4.31 470,4.22 476,4.1 482,3.95 488,3.86 494,3.77 500,3.8 507,3.86 513,3.95 519,4.04 525,4.0 531,3.95 537,4.1 543,4.22 549,4.18 556,4.13 562,4.18 568,4.22 574,4.18 580,4.13 590,4.08 599,4.04"/>
</g>
<rect x="556" y="470" width="26" height="153" fill="rgb(180,170,140)" fill-opacity="0.5"/>
<path class="zx" d="M418.3 588.5H608.7"/>
<path class="ax" d="M445.5 497.6V624.9M441.5 497.6H445.5M441.5 515.7H445.5M441.5 533.9H445.5M441.5 552.1H445.5M441.5 570.3H445.5M441.5 588.5H445.5M441.5 606.7H445.5M441.5 624.9H445.5"/>
<text class="yt" x="439.5" y="497.6">5</text><text class="yt" x="439.5" y="515.7">4</text><text class="yt" x="439.5" y="533.9">3</text><text class="yt" x="439.5" y="552.1">2</text><text class="yt" x="439.5" y="570.3">1</text><text class="yt" x="439.5" y="588.5">0</text><text class="yt" x="439.5" y="606.7">−1</text><text class="yt" x="439.5" y="624.9">−2</text>
<text class="xt" x="418.3" y="606.5">−100</text><text class="xt" x="445.5" y="606.5">0</text><text class="xt" x="472.7" y="606.5">100</text><text class="xt" x="499.9" y="606.5">200</text><text class="xt" x="527.1" y="606.5">300</text><text class="xt" x="554.3" y="606.5">400</text><text class="xt" x="581.5" y="606.5">500</text><text class="xt" x="608.7" y="606.5">600</text>
<text class="yl" transform="translate(395,555) rotate(-90)">LPP 波幅/μV</text>
<text class="tt" x="513" y="654">时间/ms</text>
<text class="tt" x="513" y="674">(h) 电极点 P4</text>
</g>

<!-- legend -->
<g>
<line x1="206" y1="690" x2="237" y2="690" stroke="#333" stroke-width="1.6" stroke-dasharray="1.2 1.6"/>
<text class="lg" x="243" y="695">条件1</text>
<line x1="355" y1="690" x2="387" y2="690" stroke="#222" stroke-width="1.8"/>
<text class="lg" x="392" y="695">条件2</text>
<line x1="502" y1="690" x2="535" y2="690" stroke="#333" stroke-width="1.6" stroke-dasharray="4 4"/>
<text class="lg" x="539" y="695">条件3</text>
</g>
</svg>
</body></html>
